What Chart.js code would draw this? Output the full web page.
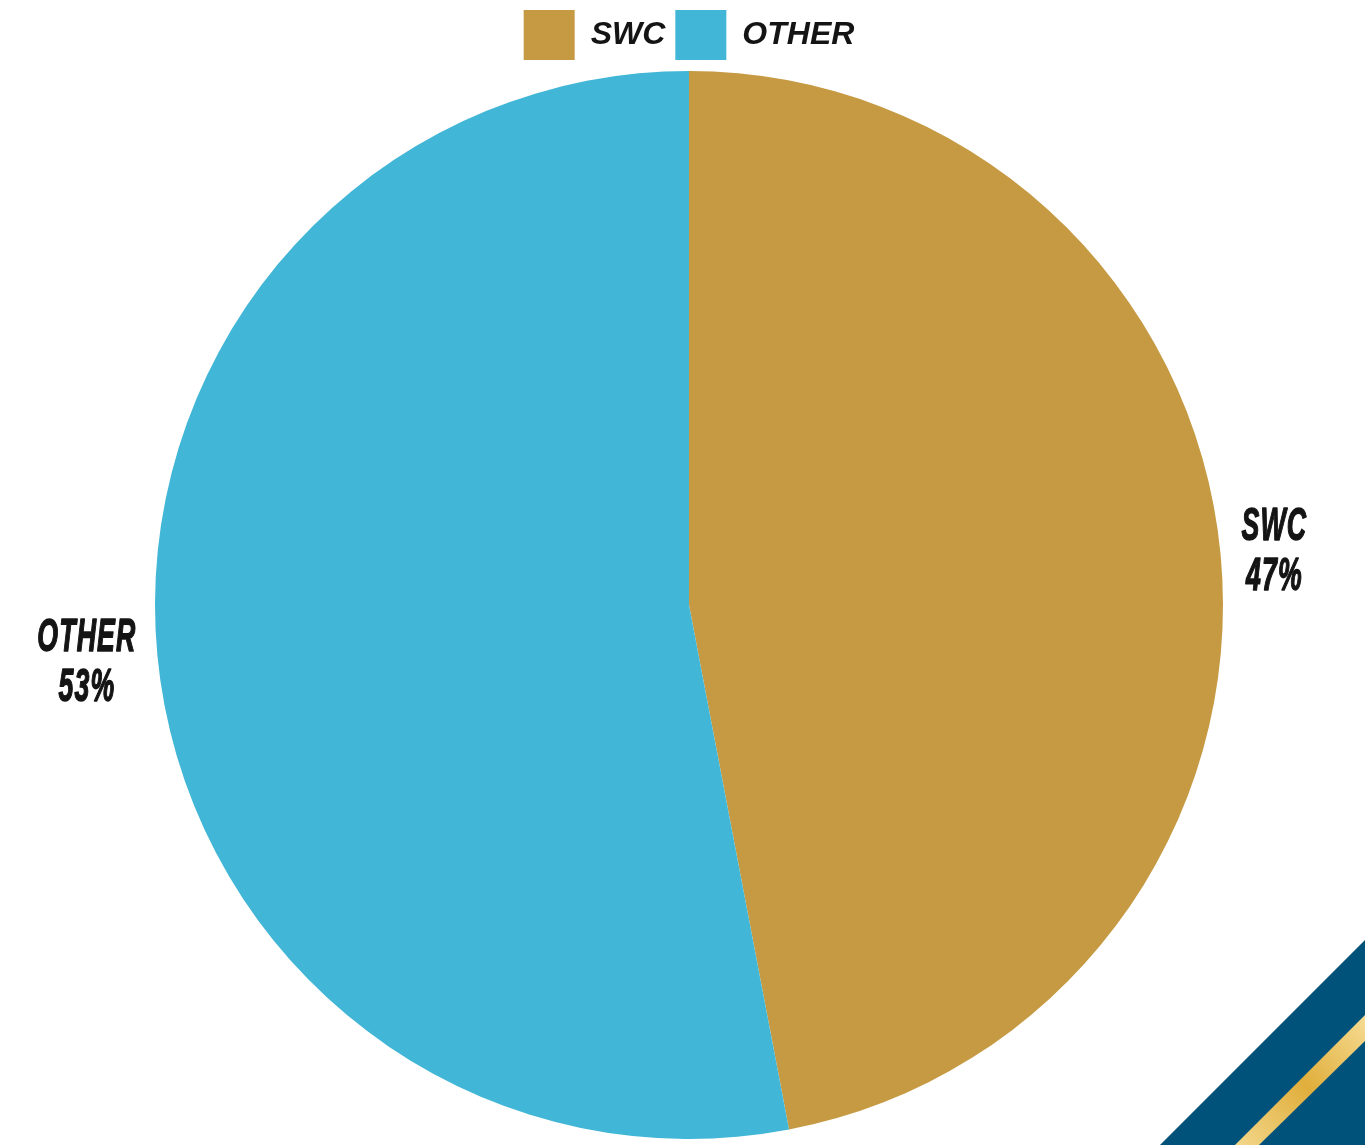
<!DOCTYPE html>
<html>
<head>
<meta charset="utf-8">
<script src="https://cdn.jsdelivr.net/npm/chart.js@4.4.1/dist/chart.umd.min.js"></script>
<style>
  html, body { margin: 0; padding: 0; background: #fff; }
  #wrap { position: relative; width: 1365px; height: 1145px; overflow: hidden; }
  #corner { position: absolute; left: 0; top: 0; }
  #pie { position: absolute; left: 0; top: 0; }
</style>
</head>
<body>
<div id="wrap">
  <svg id="corner" width="1365" height="1145">
    <defs>
      <linearGradient id="goldStripe" x1="1235" y1="1145" x2="1365" y2="1015" gradientUnits="userSpaceOnUse">
        <stop offset="0" stop-color="#f3d78c"/>
        <stop offset="0.5" stop-color="#e0ae3b"/>
        <stop offset="1" stop-color="#f6dc94"/>
      </linearGradient>
    </defs>
    <polygon points="1160,1145 1365,940 1365,1145" fill="#00527a"/>
    <polygon points="1235,1145 1365,1015 1365,1041 1259,1145" fill="url(#goldStripe)"/>
  </svg>
  <canvas id="pie" width="1365" height="1145"></canvas>
</div>
<script>
// pie data
const categories = ['SWC', 'OTHER'];
const shares = [47, 53];
const sliceColors = ['#c69a43', '#41b6d6'];

const labelFont = 'italic bold 46px "Liberation Sans Narrow", "Liberation Sans", sans-serif';

// draws "NAME / NN%" just outside each slice
const outsideLabels = {
    id: 'outsideLabels',
    afterDatasetsDraw(chart) {
        const ctx = chart.ctx;
        const meta = chart.getDatasetMeta(0);
        ctx.save();
        ctx.font = labelFont;
        ctx.letterSpacing = '2px';
        ctx.fillStyle = '#141414';
        ctx.strokeStyle = '#141414';
        ctx.lineWidth = 1.5;
        ctx.lineJoin = 'round';
        ctx.textBaseline = 'middle';
        ctx.textAlign = 'center';
        const squeeze = 0.58;
        meta.data.forEach(function(arc, i) {
            const p = arc.getProps(['x', 'y', 'startAngle', 'endAngle', 'outerRadius'], true);
            const mid = (p.startAngle + p.endAngle) / 2;
            const lines = [categories[i], shares[i] + '%'];
            const w = Math.max(...lines.map(t => ctx.measureText(t).width)) * squeeze;
            const r = p.outerRadius + 21;
            const cos = Math.cos(mid), sin = Math.sin(mid);
            const cx = p.x + cos * r + Math.sign(cos) * w / 2;
            const cy = p.y + sin * r + (cos < 0 ? 6 : 0);
            lines.forEach(function(t, k) {
                ctx.save();
                ctx.translate(cx, cy + (k - 0.5) * 50);
                ctx.scale(squeeze, 1);
                ctx.strokeText(t, 0, 0);
                ctx.fillText(t, 0, 0);
                ctx.restore();
            });
        });
        ctx.restore();
    }
};

const pieCtx = document.getElementById('pie').getContext('2d');
const pieChart = new Chart(pieCtx, {
    type: 'pie',
    data: {
        labels: categories,
        datasets: [{
            data: shares,
            backgroundColor: sliceColors,
            borderWidth: 0
        }]
    },
    options: {
        responsive: false,
        animation: false,
        devicePixelRatio: 1,
        layout: {
            padding: { top: 0, bottom: 5, left: 155, right: 142 }
        },
        plugins: {
            tooltip: { enabled: false },
            legend: {
                position: 'top',
                labels: {
                    boxWidth: 51,
                    boxHeight: 50,
                    padding: 10,
                    color: '#141414',
                    font: {
                        family: '"Liberation Sans Narrow", "Liberation Sans", sans-serif',
                        size: 32,
                        style: 'italic',
                        weight: 'bold'
                    }
                }
            }
        }
    },
    plugins: [outsideLabels]
});
</script>
</body>
</html>
